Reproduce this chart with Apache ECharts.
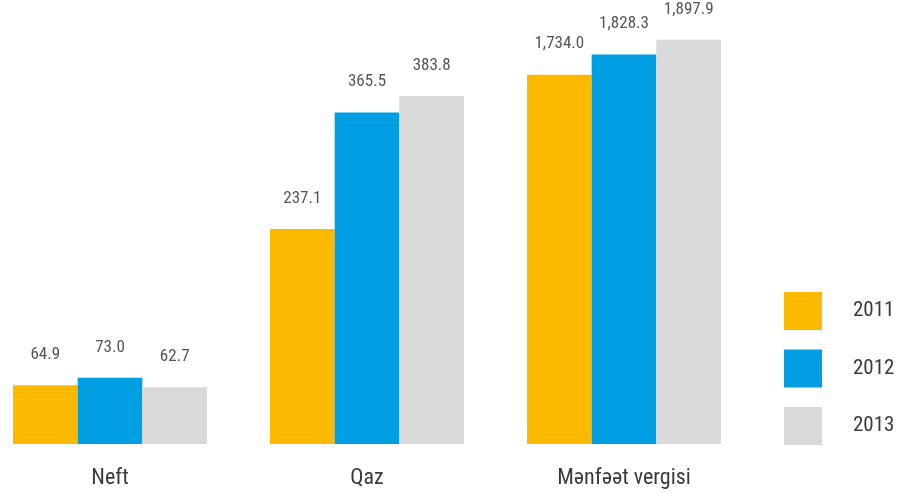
<!DOCTYPE html>
<html>
<head>
<meta charset="utf-8">
<script src="https://cdn.jsdelivr.net/npm/echarts@6/dist/echarts.min.js"></script>
<style>
html,body{margin:0;padding:0;background:#fff;}
#chart{width:900px;height:493px;}
</style>
</head>
<body>
<div id="chart"></div>
<script>
const categories = ['Neft', 'Qaz', 'Mənfəət vergisi'];
const years = ['2011', '2012', '2013'];
const v2011 = [64.9, 237.1, 1734.0];
const v2012 = [73.0, 365.5, 1828.3];
const v2013 = [62.7, 383.8, 1897.9];
// categories drawn on the second (separate-scale) value axis
const secondScaleCats = ['Mənfəət vergisi'];

const colors = ['#FBB900', '#009FE3', '#D9D9D9'];
const FONT = "'Liberation Sans Narrow', 'Roboto Condensed', 'DejaVu Sans Condensed', sans-serif";
const allValues = [v2011, v2012, v2013];

function fmt(v) {
  return v.toLocaleString('en-US', {minimumFractionDigits: 1, maximumFractionDigits: 1});
}

const series = [];
[0, 1].forEach(function (axisIdx) {
  years.forEach(function (y, i) {
    const data = categories.map(function (c, j) {
      const onSecond = secondScaleCats.indexOf(c) >= 0;
      return (onSecond === (axisIdx === 1)) ? allValues[i][j] : '-';
    });
    series.push({
      name: y,
      type: 'bar',
      xAxisIndex: axisIdx,
      yAxisIndex: axisIdx,
      data: data,
      barWidth: 64.7,
      barGap: '0%',
      itemStyle: {color: colors[i]},
      label: {
        show: true,
        position: 'top',
        distance: 22,
        color: '#555555',
        fontFamily: FONT,
        fontSize: 17,
        formatter: function (p) { return fmt(p.value); }
      }
    });
  });
});

const chart = echarts.init(document.getElementById('chart'), null, {renderer: 'canvas'});
chart.setOption({
  animation: false,
  backgroundColor: '#ffffff',
  legend: {
    data: years,
    orient: 'vertical',
    left: 784,
    top: 292,
    padding: 0,
    icon: 'rect',
    itemWidth: 38,
    itemHeight: 38,
    itemGap: 19.5,
    textStyle: {
      fontFamily: FONT,
      fontSize: 21,
      color: '#3a3a3a',
      padding: [0, 0, 0, 26]
    }
  },
  grid: {left: 110, right: 276, top: 4, bottom: 49, containLabel: false},
  xAxis: [
    {
      type: 'category',
      data: categories,
      boundaryGap: false,
      axisLine: {show: false},
      axisTick: {show: false},
      splitLine: {show: false},
      axisLabel: {
        margin: 23,
        fontFamily: FONT,
        fontSize: 22,
        color: '#3a3a3a',
        interval: 0
      }
    },
    {
      type: 'category',
      data: categories,
      boundaryGap: false,
      show: false
    }
  ],
  yAxis: [
    {type: 'value', min: 0, max: 485.1, show: false, splitLine: {show: false}},
    {type: 'value', min: 0, max: 2066, show: false, splitLine: {show: false}}
  ],
  series: series
});
</script>
</body>
</html>
